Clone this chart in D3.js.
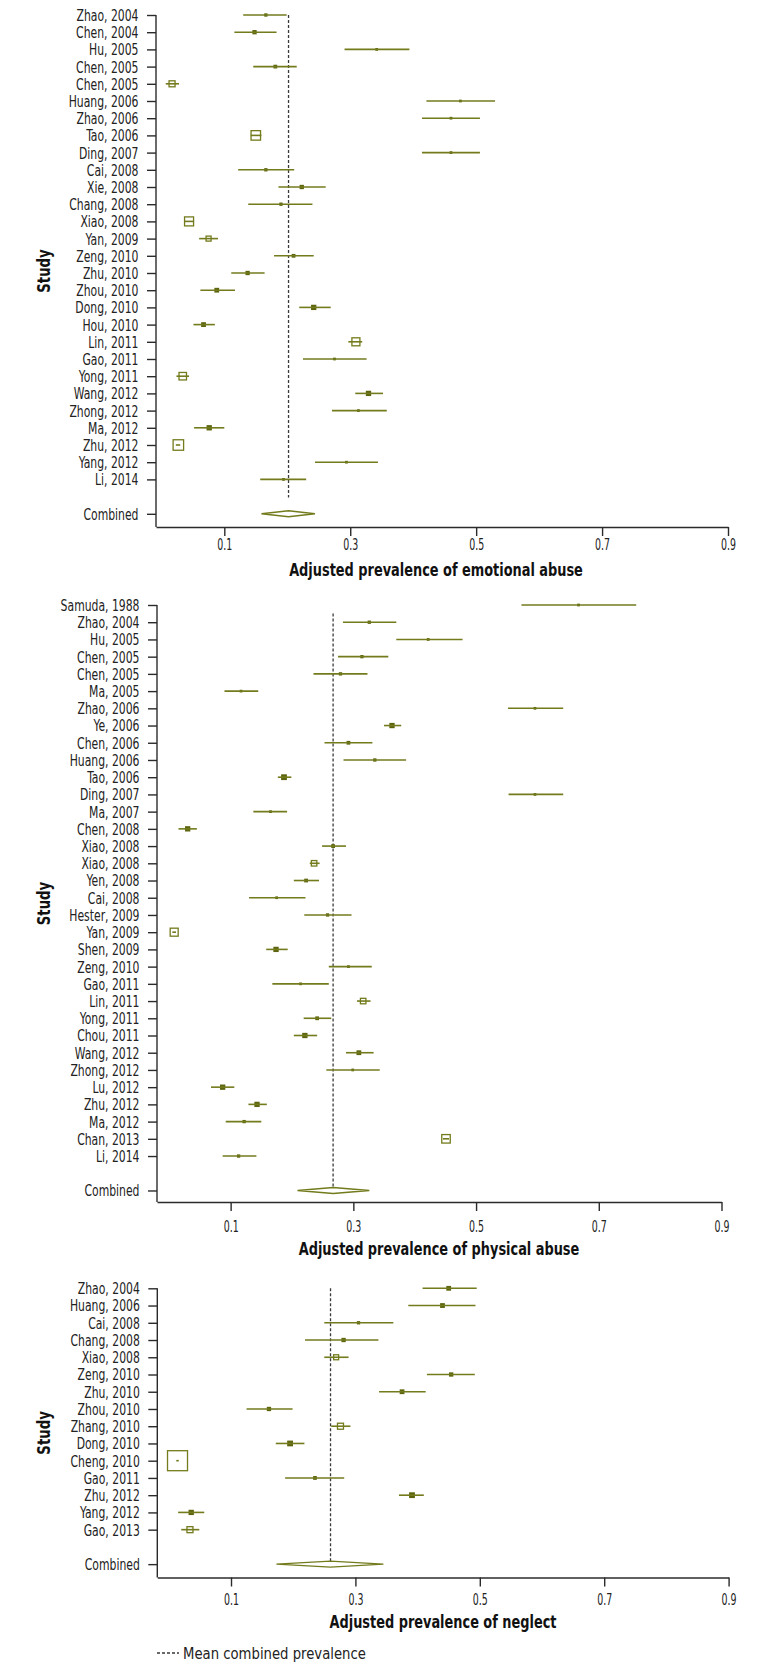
<!DOCTYPE html>
<html><head><meta charset="utf-8">
<script src="https://cdn.jsdelivr.net/npm/d3@7"></script>
<style>body{margin:0;background:#fff} svg{display:block}</style>
</head><body><svg id="chart" width="771" height="1670"></svg>
<script>
// ---------- Emotional abuse ----------
const emoStudies = ["Zhao, 2004","Chen, 2004","Hu, 2005","Chen, 2005","Chen, 2005","Huang, 2006","Zhao, 2006","Tao, 2006","Ding, 2007","Cai, 2008","Xie, 2008","Chang, 2008","Xiao, 2008","Yan, 2009","Zeng, 2010","Zhu, 2010","Zhou, 2010","Dong, 2010","Hou, 2010","Lin, 2011","Gao, 2011","Yong, 2011","Wang, 2012","Zhong, 2012","Ma, 2012","Zhu, 2012","Yang, 2012","Li, 2014"];
const emoEst = [0.166,0.148,0.342,0.181,0.017,0.475,0.460,0.150,0.460,0.166,0.223,0.190,0.044,0.075,0.210,0.137,0.088,0.242,0.067,0.309,0.275,0.034,0.329,0.313,0.076,0.027,0.294,0.194];
const emoLo  = [0.130,0.116,0.291,0.146,0.007,0.421,0.414,0.142,0.414,0.122,0.186,0.138,0.036,0.060,0.179,0.111,0.062,0.219,0.051,0.297,0.225,0.024,0.308,0.271,0.052,0.023,0.244,0.157];
const emoHi  = [0.199,0.183,0.394,0.215,0.028,0.530,0.506,0.159,0.506,0.211,0.261,0.240,0.052,0.090,0.242,0.164,0.117,0.269,0.085,0.319,0.326,0.044,0.352,0.358,0.100,0.030,0.344,0.230];
const emoWeight = [0.4,0.9,0.2,0.6,3.6,0.2,0.2,9.0,0.2,0.4,0.9,0.4,8.1,2.5,0.6,0.9,1.2,1.6,1.2,6.4,0.2,5.6,1.6,0.2,1.6,11.0,0.2,0.2];
const emoCombined = [0.159,0.202,0.244];

// ---------- Physical abuse ----------
const phyStudies = ["Samuda, 1988","Zhao, 2004","Hu, 2005","Chen, 2005","Chen, 2005","Ma, 2005","Zhao, 2006","Ye, 2006","Chen, 2006","Huang, 2006","Tao, 2006","Ding, 2007","Ma, 2007","Chen, 2008","Xiao, 2008","Xiao, 2008","Yen, 2008","Cai, 2008","Hester, 2009","Yan, 2009","Shen, 2009","Zeng, 2010","Gao, 2011","Lin, 2011","Yong, 2011","Chou, 2011","Wang, 2012","Zhong, 2012","Lu, 2012","Zhu, 2012","Ma, 2012","Chan, 2013","Li, 2014"];
const phyEst = [0.667,0.326,0.422,0.314,0.279,0.117,0.596,0.363,0.292,0.335,0.187,0.596,0.165,0.030,0.267,0.236,0.223,0.175,0.258,0.008,0.174,0.292,0.214,0.316,0.241,0.221,0.309,0.299,0.087,0.143,0.122,0.451,0.113];
const phyLo  = [0.574,0.283,0.370,0.275,0.235,0.090,0.552,0.350,0.253,0.284,0.177,0.553,0.137,0.015,0.249,0.229,0.203,0.130,0.220,0.005,0.158,0.260,0.168,0.306,0.219,0.203,0.288,0.256,0.068,0.129,0.092,0.446,0.087];
const phyHi  = [0.761,0.370,0.478,0.357,0.323,0.145,0.642,0.378,0.331,0.386,0.199,0.642,0.192,0.045,0.288,0.245,0.244,0.222,0.297,0.011,0.193,0.330,0.260,0.328,0.264,0.241,0.333,0.343,0.106,0.159,0.150,0.456,0.142];
const phyWeight = [0.2,0.4,0.2,0.4,0.4,0.2,0.2,1.6,0.6,0.4,2.0,0.2,0.2,1.6,0.6,3.0,0.6,0.2,0.4,6.4,1.6,0.2,0.2,3.0,0.6,1.6,1.2,0.2,1.6,1.6,0.4,7.2,0.4];
const phyCombined = [0.209,0.267,0.326];

// ---------- Neglect ----------
const negStudies = ["Zhao, 2004","Huang, 2006","Cai, 2008","Chang, 2008","Xiao, 2008","Zeng, 2010","Zhu, 2010","Zhou, 2010","Zhang, 2010","Dong, 2010","Cheng, 2010","Gao, 2011","Zhu, 2012","Yang, 2012","Gao, 2013"];
const negEst = [0.450,0.440,0.305,0.281,0.269,0.454,0.375,0.161,0.276,0.195,0.014,0.235,0.391,0.036,0.034];
const negLo  = [0.408,0.385,0.250,0.219,0.250,0.415,0.338,0.125,0.261,0.172,0.012,0.187,0.370,0.015,0.020];
const negHi  = [0.495,0.493,0.361,0.337,0.289,0.492,0.413,0.199,0.292,0.218,0.016,0.282,0.410,0.057,0.049];
const negWeight = [1.2,1.2,0.4,0.9,2.5,0.9,1.2,0.9,3.6,2.0,40,0.6,2.0,1.6,3.6];
const negCombined = [0.173,0.260,0.345];

const xTicks = [0.1,0.3,0.5,0.7,0.9];
const axisTitles = ["Adjusted prevalence of emotional abuse","Adjusted prevalence of physical abuse","Adjusted prevalence of neglect"];
const combinedLabel = "Combined";
const yTitle = "Study";
const legendLabel = "Mean combined prevalence";

// ---------- drawing ----------
const svg = d3.select('#chart');
const FONT = '"Liberation Sans Narrow","DejaVu Sans Condensed","Liberation Sans",Arial,sans-serif';
const OLIVE = '#737b1c', OLIVE_DARK = '#5c640f', AXIS = '#2b2b2b';
const LABEL_SIZE = 16, TICK_SIZE = 16.5, TITLE_SIZE = 18;

function measure(text, size, weight){
  const t = svg.append('text').attr('font-family',FONT).attr('font-size',size).attr('font-weight',weight).text(text);
  const w = t.node().getComputedTextLength(); t.remove(); return w;
}
const fReg = 62 / measure('Zhao, 2004', LABEL_SIZE, 400);
const fTick = 15 / measure('0.1', TICK_SIZE, 400);
const fBold = 294 / measure(axisTitles[0], TITLE_SIZE, 700);
const fLeg = 183 / measure(legendLabel, 16, 400);

const sizeScale = d3.scaleSqrt().domain([0, 10]).range([0, 10]);

const panels = [
  {studies:emoStudies, est:emoEst, lo:emoLo, hi:emoHi, w:emoWeight, comb:emoCombined, title:axisTitles[0],
   top:15, step:17.2, xLeft:156, xRight:728, xMin:-0.0085, axisY:527, dashFrom:0, dashTo:28.05, tickGap:17, titleY:570, titleX:436},
  {studies:phyStudies, est:phyEst, lo:phyLo, hi:phyHi, w:phyWeight, comb:phyCombined, title:axisTitles[1],
   top:605, step:17.22, xLeft:157, xRight:721.5, xMin:-0.02, axisY:1202, dashFrom:0.5, dashTo:33.8, tickGap:24, titleY:1249, titleX:439},
  {studies:negStudies, est:negEst, lo:negLo, hi:negHi, w:negWeight, comb:negCombined, title:axisTitles[2],
   top:1288.3, step:17.24, xLeft:157.3, xRight:728.6, xMin:-0.0185, axisY:1577.5, dashFrom:0, dashTo:15.85, tickGap:22, titleY:1622, titleX:443}
];

panels.forEach(p => {
  const n = p.studies.length;
  const g = svg.append('g');
  const x = d3.scaleLinear().domain([p.xMin, 0.9]).range([p.xLeft, p.xRight]);
  const y = d3.scaleLinear().domain([0, 1]).range([p.top, p.top + p.step]);
  const rows = d3.range(n);
  const labels = p.studies.concat([combinedLabel]);
  const tickIdx = rows.concat([n + 1]);

  // y axis
  const yAxis = d3.axisLeft(y).tickValues(tickIdx).tickFormat((d,i) => labels[i]).tickSize(9).tickSizeOuter(0).tickPadding(8);
  const ya = g.append('g').attr('transform', `translate(${p.xLeft},0)`).call(yAxis);
  ya.select('.domain').remove();
  ya.selectAll('.tick line').attr('stroke', AXIS).attr('stroke-width', 1.4);
  ya.selectAll('.tick text').attr('font-family', FONT).attr('font-size', LABEL_SIZE).attr('fill', '#222')
    .attr('x', -17.5 / fReg).attr('dy', '0.34em').attr('transform', `scale(${fReg},1)`);
  g.append('line').attr('x1', p.xLeft).attr('x2', p.xLeft).attr('y1', y(0)).attr('y2', p.axisY)
    .attr('stroke', AXIS).attr('stroke-width', 1.4);

  // x axis
  const xAxis = d3.axisBottom(x).tickValues(xTicks).tickFormat(d3.format('.1f')).tickSize(9).tickSizeOuter(0).tickPadding(p.tickGap - 15);
  const xa = g.append('g').attr('transform', `translate(0,${p.axisY})`).call(xAxis);
  xa.select('.domain').attr('stroke', AXIS).attr('stroke-width', 1.4);
  xa.selectAll('.tick line').attr('stroke', AXIS).attr('stroke-width', 1.4);
  xa.selectAll('.tick text').attr('font-family', FONT).attr('font-size', TICK_SIZE).attr('fill', '#222')
    .attr('transform', `scale(${fTick},1)`);

  // axis titles
  g.append('text').attr('transform', `translate(${p.titleX},${p.titleY}) scale(${fBold},1)`)
    .attr('text-anchor','middle').attr('dy','0.35em').attr('font-family', FONT).attr('font-weight', 700)
    .attr('font-size', TITLE_SIZE).attr('fill', '#111').text(p.title);
  g.append('text').attr('transform', `translate(44,${(y(0) + p.axisY) / 2}) rotate(-90) scale(${fBold},1)`)
    .attr('text-anchor','middle').attr('dy','0.35em').attr('font-family', FONT).attr('font-weight', 700)
    .attr('font-size', 18.5).attr('fill', '#111').text(yTitle);

  // dashed mean line
  g.append('line').attr('x1', x(p.comb[1])).attr('x2', x(p.comb[1]))
    .attr('y1', y(p.dashFrom)).attr('y2', y(p.dashTo))
    .attr('stroke', '#3a3a3a').attr('stroke-width', 1.3).attr('stroke-dasharray', '3,2');

  // study boxes
  const rowG = g.selectAll('g.row').data(rows).join('g').attr('class','row');
  rowG.append('rect')
    .attr('x', i => x(p.est[i]) - sizeScale(p.w[i]) / 2)
    .attr('y', i => y(i) - sizeScale(p.w[i]) / 2)
    .attr('width', i => sizeScale(p.w[i]))
    .attr('height', i => sizeScale(p.w[i]))
    .attr('fill', i => sizeScale(p.w[i]) < 4.5 ? OLIVE_DARK : '#fff')
    .attr('stroke', i => sizeScale(p.w[i]) < 4.5 ? OLIVE_DARK : OLIVE)
    .attr('stroke-width', 1.3);
  rowG.append('line')
    .attr('x1', i => x(p.lo[i])).attr('x2', i => x(p.hi[i]))
    .attr('y1', i => y(i)).attr('y2', i => y(i))
    .attr('stroke', OLIVE).attr('stroke-width', 1.6);

  // combined diamond
  const cy = y(n + 1), h = 3;
  g.append('path')
    .attr('d', `M${x(p.comb[0])},${cy}L${x(p.comb[1])},${cy - h}L${x(p.comb[2])},${cy}L${x(p.comb[1])},${cy + h}Z`)
    .attr('fill', '#fff').attr('stroke', OLIVE).attr('stroke-width', 1.4);
});

// legend
const lg = svg.append('g').attr('transform', 'translate(157,1653)');
lg.append('line').attr('x1', 0).attr('x2', 22).attr('y1', 0).attr('y2', 0)
  .attr('stroke', '#3a3a3a').attr('stroke-width', 1.3).attr('stroke-dasharray', '3,2');
lg.append('text').attr('transform', `translate(26,0) scale(${fLeg},1)`).attr('dy','0.35em')
  .attr('font-family', FONT).attr('font-size', 16).attr('fill', '#222').text(legendLabel);
</script>
</body></html>
